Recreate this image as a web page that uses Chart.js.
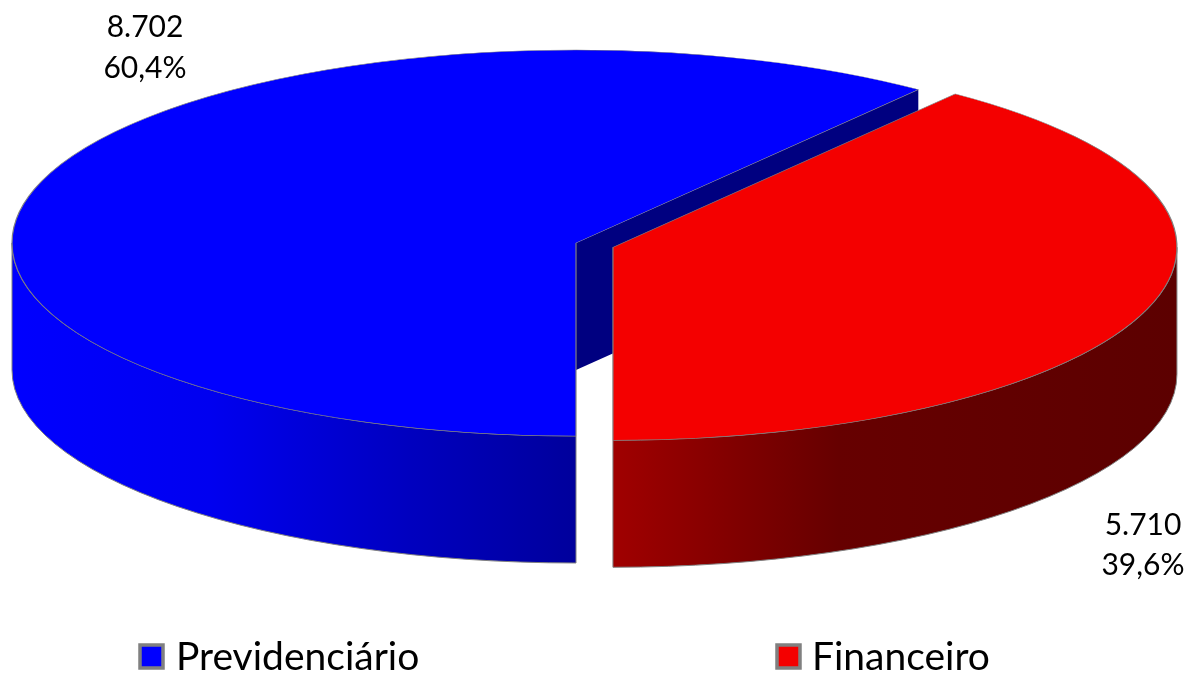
<!DOCTYPE html>
<html><head><meta charset="utf-8">
<style>html,body{margin:0;padding:0;background:#fff}#w{width:1188px;height:673px;position:relative}</style>
<script src="https://cdn.jsdelivr.net/npm/chart.js@4"></script>
</head><body><div id="w"><canvas id="c"></canvas></div>
<script>
const categories = ['Previdenciário', 'Financeiro'];
const seriesValues = [8702, 5710];
const valueTexts = ['8.702', '5.710'];
const percentTexts = ['60,4%', '39,6%'];
const topColors = ['#0000FF', '#F40000'];
const explode = [0, 39];
const EDGE = '#808080';
const TILT = 193 / 564, DEPTH = 127, RADIUS = 564, FONT = 'Lato';
const wallStops = [
  [[0, '#0000FF'], [0.35, '#0000F0'], [0.7, '#0000C0'], [1, '#00009C']],
  [[0, '#A00000'], [0.4, '#660000'], [1, '#5C0000']]
];
const labelAnchors = [[-431, -216, -175], [567, 282, 322]];
const legendSpots = [[140, 176], [777, 812]];

let centre = null;
function geom(el) {
  const p = el.getProps(['x', 'y', 'startAngle', 'endAngle', 'outerRadius'], true);
  return { x: p.x, y: centre.y + (p.y - centre.y) * TILT, r: p.outerRadius, a0: p.startAngle, a1: p.endAngle };
}
const tiltPlugin = {
  id: 'tilt',
  afterDatasetUpdate(chart) {
    const arcs = chart.getDatasetMeta(0).data;
    centre = { x: arcs[0].x, y: arcs[0].y };
    arcs.forEach((el, i) => {
      const h = (el.startAngle + el.endAngle) / 2;
      el.x = centre.x + Math.cos(h) * explode[i];
      el.y = centre.y + Math.sin(h) * explode[i];
    });
  },
  beforeDatasetDraw(chart) {
    const ctx = chart.ctx, arcs = chart.getDatasetMeta(0).data;
    const g0 = geom(arcs[0]), g1 = geom(arcs[1]);
    ctx.save();
    ctx.lineWidth = 1; ctx.strokeStyle = EDGE;
    // cut face of the first slice
    const ex = g0.x + g0.r * Math.cos(g0.a1), ey = g0.y + g0.r * Math.sin(g0.a1) * TILT;
    ctx.beginPath();
    ctx.moveTo(g0.x, g0.y); ctx.lineTo(ex, ey); ctx.lineTo(ex, ey + DEPTH); ctx.lineTo(g0.x, g0.y + DEPTH);
    ctx.closePath(); ctx.fillStyle = '#000080'; ctx.fill();
    // outer walls (only the half facing the viewer)
    const walls = [[g0, Math.PI / 2, Math.PI, wallStops[0], true], [g1, 0, Math.PI / 2, wallStops[1], false]];
    for (const [g, a0, a1, stops, rev] of walls) {
      const xa = g.x + g.r * Math.cos(rev ? a0 : a0 + Math.PI / 2);
      const xb = g.x + g.r * Math.cos(rev ? a1 : a0);
      const grad = ctx.createLinearGradient(rev ? xb : xa, 0, rev ? xa : xb, 0);
      stops.forEach(s => grad.addColorStop(s[0], s[1]));
      ctx.beginPath();
      ctx.ellipse(g.x, g.y, g.r, g.r * TILT, 0, a0, a1);
      ctx.ellipse(g.x, g.y + DEPTH, g.r, g.r * TILT, 0, a1, a0, true);
      ctx.closePath(); ctx.fillStyle = grad; ctx.fill(); ctx.stroke();
    }
    ctx.restore();
    // tilt the pie itself
    ctx.save();
    ctx.translate(centre.x, centre.y); ctx.scale(1, TILT); ctx.translate(-centre.x, -centre.y);
  },
  afterDatasetDraw(chart) { chart.ctx.restore(); },
  afterDraw(chart) {
    const ctx = chart.ctx;
    ctx.save();
    ctx.fillStyle = '#000';
    ctx.textBaseline = 'middle'; ctx.textAlign = 'center';
    ctx.font = '30px ' + FONT;
    valueTexts.forEach((t, i) => {
      const [dx, d1, d2] = labelAnchors[i];
      ctx.fillText(t, centre.x + dx, centre.y + d1);
      ctx.fillText(percentTexts[i], centre.x + dx, centre.y + d2);
    });
    ctx.font = '39px ' + FONT; ctx.textAlign = 'left';
    chart.data.labels.forEach((t, i) => {
      const [bx, tx] = legendSpots[i], ds = chart.data.datasets[0];
      ctx.fillStyle = ds.backgroundColor[i];
      ctx.strokeStyle = EDGE; ctx.lineWidth = 3.5;
      ctx.fillRect(bx, 645, 23, 23); ctx.strokeRect(bx, 645, 23, 23);
      ctx.fillStyle = '#000';
      ctx.fillText(t, tx, 657);
    });
    ctx.restore();
  }
};
new Chart(document.getElementById('c'), {
  type: 'pie',
  data: { labels: categories, datasets: [{
    data: seriesValues, backgroundColor: topColors, borderColor: EDGE, borderWidth: 1.2,
    radius: RADIUS, clip: false
  }] },
  options: {
    responsive: true, maintainAspectRatio: false, animation: false, rotation: 180,
    layout: { padding: { right: 36, bottom: 187 } },
    plugins: { legend: { display: false }, tooltip: { enabled: false } }
  },
  plugins: [tiltPlugin]
});
</script></body></html>
